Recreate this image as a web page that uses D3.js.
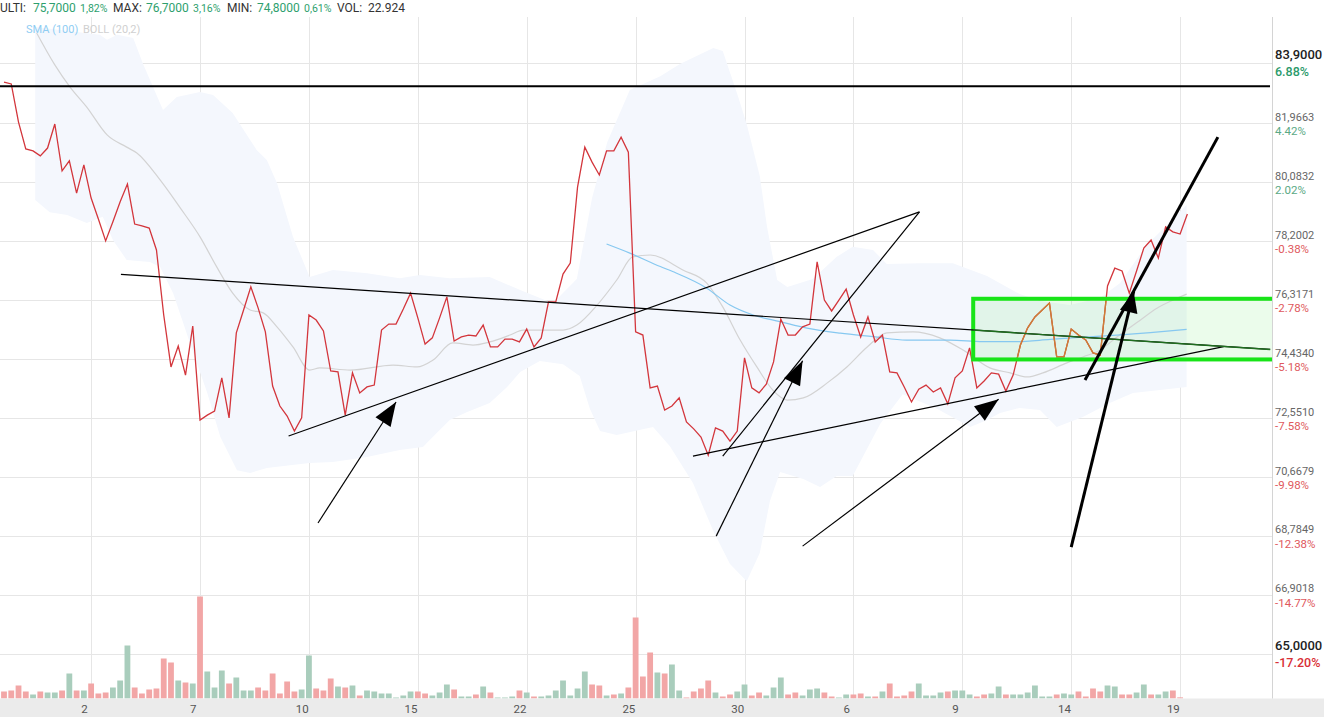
<!DOCTYPE html>
<html><head><meta charset="utf-8">
<script src="https://cdn.jsdelivr.net/npm/d3@7"></script>
<style>
html,body{margin:0;padding:0;background:#fff;overflow:hidden}
svg{display:block;font-family:Roboto,"Noto Sans",Arial,sans-serif}
</style></head><body>
<svg id="chart" width="1324" height="717"></svg>
<script>
// ---------- DATA ----------
const prices = [83.29,83.23,82.01,81.15,81.09,80.93,81.18,81.95,80.45,80.77,
79.74,80.64,79.58,78.91,78.21,78.82,79.46,80.03,78.75,78.69,
78.62,77.92,75.84,74.18,74.85,73.92,75.49,72.48,72.64,72.77,
73.83,72.55,75.27,76.00,76.74,76.07,75.30,73.57,72.93,72.61,
72.13,72.55,75.84,75.68,75.33,74.05,74.02,72.64,73.99,73.35,
73.54,73.60,75.36,75.55,75.55,76.03,76.54,75.75,74.91,75.11,
75.75,76.42,75.01,75.14,75.20,75.17,75.52,74.82,74.82,75.07,
75.07,74.98,75.39,74.82,75.11,76.26,76.26,77.15,77.50,79.93,
81.21,80.73,80.32,81.09,81.09,81.53,81.05,75.30,75.20,73.51,
73.57,72.80,72.93,73.19,72.42,72.20,71.94,71.36,72.23,72.13,
71.81,72.13,74.47,73.51,73.35,73.63,74.34,75.71,75.20,75.20,
75.46,75.55,77.54,76.32,75.97,76.32,76.67,75.84,75.14,75.78,
74.98,75.20,74.02,73.99,73.54,73.06,73.47,73.60,73.38,73.51,
73.00,73.83,74.05,74.79,73.51,73.73,73.99,73.95,73.41,73.92,
74.88,75.43,75.78,76.00,76.22,74.50,74.50,75.39,75.20,75.04,
74.63,74.56,76.77,77.34,77.25,76.54,77.25,77.98,78.24,77.66,
78.66,78.50,78.43,79.07];

const volumes = [140,160,260,140,80,140,120,120,160,500,
160,160,300,100,120,220,360,1060,220,100,
180,200,800,720,360,320,300,2040,540,220,
560,300,420,160,160,220,160,500,100,340,
140,180,860,200,160,400,240,220,260,60,
160,140,100,100,20,60,140,140,100,60,
120,280,180,40,40,80,240,120,20,20,
40,160,120,40,40,60,160,360,60,200,
540,280,260,60,80,100,220,1620,440,920,
520,500,680,160,20,140,200,360,120,40,
80,140,280,60,120,60,220,420,80,120,
60,180,200,120,40,20,80,80,100,40,
40,140,300,40,60,140,300,60,60,120,
140,160,160,80,40,80,100,240,80,80,
80,120,260,40,40,80,100,80,140,40,
200,140,260,240,80,80,120,280,80,80,
140,160,23];

const volUp = [0,0,0,0,1,0,1,1,0,1,
0,1,0,0,0,1,1,1,0,0,
0,0,0,0,1,0,1,0,1,1,
1,0,1,1,1,0,0,0,0,0,
0,1,1,0,0,0,1,0,1,0,
1,1,1,1,1,1,1,0,0,1,
1,1,0,1,1,0,1,0,1,1,
1,0,1,0,1,1,1,1,1,1,
1,0,0,1,0,1,0,0,0,0,
1,0,1,1,0,0,0,0,1,0,
0,1,1,0,0,1,1,1,0,0,
1,1,1,0,0,1,1,0,0,1,
0,1,0,0,0,0,1,1,1,1,
0,1,1,1,0,0,1,1,0,1,
1,1,1,1,1,0,1,1,0,0,
0,0,1,1,0,0,1,1,0,1,
1,0,0];

const xLabels = ["2","7","10","15","22","25","30","6","9","14","19"];
const xLabelIdx = [11,26,41,56,71,86,101,116,131,146,161];

const yTicks = [83.9,81.9663,80.0832,78.2002,76.3171,74.434,72.551,70.6679,68.7849,66.9018,65.0];
const yPct = ["6.88%","4.42%","2.02%","-0.38%","-2.78%","-5.18%","-7.58%","-9.98%","-12.38%","-14.77%","-17.20%"];

// Bollinger (20,2) band edges and middle line, read at sample bar positions [barIndex, price]
const bollUpper = [[4.3,85.05],[13.2,84.8],[14.2,84.64],[15.6,84.8],[17.8,84.7],[19.1,83.9],[21.9,82.4],[23.8,82.81],[27,82.97],[28.8,82.88],[31.5,82.3],[34.8,81.12],[36.2,80.8],[37.6,80.06],[39.8,78.34],[42.1,77.06],[45.3,77.28],[50,77.18],[54.5,77.02],[57.3,77.12],[61.4,77.02],[66.9,77.06],[71.1,76.64],[75.6,76.22],[78.9,76.99],[81,79.58],[83.1,81.37],[86.2,83.04],[90.4,83.48],[93.1,83.87],[97.7,84.38],[99,84.28],[101,82.91],[102.3,81.95],[104.1,80.29],[105.1,78.66],[106.5,76.96],[107.9,76.74],[111.4,76.99],[114.7,77.7],[116.9,78.02],[119.7,77.92],[121.6,77.47],[126.2,77.5],[130.7,77.5],[135.4,77.09],[139.9,76.51],[142.7,76.29],[146.8,76.16],[150.9,76.38],[153.7,76.86],[157.4,78.08],[160.2,78.72],[162.9,79.36]];
const bollLower = [[4.3,79.52],[6.3,79.13],[8.7,79.04],[11.4,78.78],[13.6,78.98],[15,78.24],[16.9,77.6],[20.1,77.54],[21.5,77.38],[23.3,76.54],[25.6,74.95],[28,73.35],[29.8,71.94],[32.1,70.88],[33.9,70.79],[36.2,70.95],[39.4,71.04],[42.1,71.11],[45.3,71.14],[50,71.3],[54.5,71.52],[57.7,71.62],[59.6,72.07],[61.4,72.48],[63.8,72.74],[66.9,73.03],[69.3,73.54],[71.1,74.02],[73.8,74.37],[77,74.27],[79.3,73.89],[80.7,72.84],[82.1,72.13],[84.4,72.0],[89.4,72.26],[91.7,71.65],[94.9,70.47],[97.7,68.93],[100,67.88],[102.3,67.33],[104.1,68.23],[105.5,69.89],[106.9,70.82],[110.1,70.6],[112.4,70.34],[114.7,70.69],[116.9,70.69],[120.7,72.36],[123.8,73.31],[128.5,72.84],[133.1,72.26],[135.4,72.48],[137.2,72.71],[139.9,72.87],[142.7,72.8],[145,72.26],[148.6,72.58],[152.3,73.03],[155.5,73.35],[159.2,73.44],[162.9,73.54]];
const bollMid = [[4.5,84.86],[7,83.84],[9.1,83.13],[11.4,82.49],[14.2,81.6],[16.9,81.21],[18.3,81.02],[21.5,80.16],[24.2,79.29],[27,78.34],[29.3,77.38],[31.5,76.54],[33.9,76.0],[35.7,75.91],[37.6,75.46],[39.8,74.82],[42.1,74.08],[43.5,74.15],[47.7,74.08],[53.6,74.24],[56.9,74.18],[59.1,74.4],[61.8,74.95],[64.6,74.88],[66.9,74.98],[69.7,75.2],[71.5,75.36],[77,75.36],[78.9,75.52],[81.7,76.16],[84.4,76.96],[86.6,77.7],[89,77.76],[93.5,77.28],[96.8,76.86],[99,76.1],[101.4,75.04],[103.7,74.18],[105.9,73.44],[107.9,73.12],[110.1,73.19],[113.4,73.67],[116.1,74.18],[118.9,74.82],[121.6,75.27],[125.2,75.3],[128.9,75.11],[132.1,74.72],[135.8,74.15],[138.6,73.99],[140.9,73.86],[143.1,73.99],[146.4,74.31],[148.6,74.5],[151,74.72],[153.3,75.14],[156,75.59],[158.8,76.06],[161.6,76.38],[162.9,76.51]];
const sma100 = [[83,78.11],[86.2,77.82],[90.4,77.39],[92.1,77.23],[96.8,76.7],[100,76.16],[103.2,75.84],[106.9,75.63],[110.6,75.42],[115.2,75.26],[119.7,75.15],[124.3,75.04],[130.3,75.04],[134.8,74.99],[139.5,74.99],[144.1,75.06],[148.6,75.13],[153.3,75.2],[157.9,75.28],[162.9,75.38]];

// user drawings, in [barIndex, price]
const hLinePrice = 83.16;
const trendLines = [[[16.1,77.14],[174.4,74.74]],[[39.2,71.97],[126.1,79.14]],[[126.1,79.14],[99.0,71.33]],[[94.9,71.33],[168.0,74.83]]];
const arrows = [[[43.25,69.19],[54.0,73.06]],[[98.1,68.77],[110.0,74.38]],[[110.0,68.45],[137.0,73.15]]];
const thickLines = [[[148.9,73.76],[167.2,81.53]]];
const thickArrows = [[[147.0,68.42],[155.6,76.59]]];
const zone = {i0:133.5, i1:185, top:76.36, bottom:74.42};

const headerItems = ["ULTI:","75,7000","1,82%","MAX:","76,7000","3,16%","MIN:","74,8000","0,61%","VOL:","22.924"];
const headerKind  = ["lab","val","val","lab","val","val","lab","val","val","lab","lab"];
const headerX = [0,33,80,113,146,193,227,257,304,337,368];

// ---------- LAYOUT ----------
const plot = {l:0, r:1272, t:17, b:698.5};
const xs = d3.scaleLinear().domain([0,175]).range([4, 4+175*7.26]);
const ys = d3.scaleLinear().domain([65,83.9]).range([654,63]);
const vs = d3.scaleLinear().domain([0,2040]).range([plot.b, plot.b-102]);

const svg = d3.select("#chart");
const defs = svg.append("defs");
defs.append("clipPath").attr("id","plotClip").append("rect")
  .attr("x",plot.l).attr("y",plot.t).attr("width",plot.r-plot.l).attr("height",plot.b-plot.t);
const zx0 = xs(zone.i0), zx1 = xs(zone.i1), zy0 = ys(zone.top), zy1 = ys(zone.bottom);
defs.append("clipPath").attr("id","zoneClip").append("rect")
  .attr("x",zx0).attr("y",zy0).attr("width",zx1-zx0).attr("height",zy1-zy0);

// bottom axis band
svg.append("rect").attr("x",0).attr("y",plot.b).attr("width",1324).attr("height",717-plot.b).attr("fill","#ebebeb");

const g = svg.append("g").attr("clip-path","url(#plotClip)");

// grid
g.append("g").selectAll("line").data(yTicks).join("line")
  .attr("x1",plot.l).attr("x2",plot.r)
  .attr("y1",d=>Math.round(ys(d))+0.5).attr("y2",d=>Math.round(ys(d))+0.5)
  .attr("stroke","#e6e6e6").attr("stroke-width",1);
g.append("g").selectAll("line").data(xLabelIdx).join("line")
  .attr("x1",d=>Math.round(xs(d+1))+0.5).attr("x2",d=>Math.round(xs(d+1))+0.5)
  .attr("y1",plot.t).attr("y2",plot.b)
  .attr("stroke","#e6e6e6").attr("stroke-width",1);

// Bollinger band
const band = bollUpper.concat(bollLower.slice().reverse());
g.append("path").attr("d", d3.line().x(d=>xs(d[0])).y(d=>ys(d[1])).curve(d3.curveLinearClosed)(band))
  .attr("fill","#f4f7fd").attr("stroke","none");

// volume bars
g.append("g").selectAll("rect").data(volumes).join("rect")
  .attr("x",(d,i)=>xs(i)-2.9).attr("width",5.8)
  .attr("y",d=>vs(d)).attr("height",d=>plot.b-vs(d))
  .attr("fill",(d,i)=>volUp[i]?"#a9cdbc":"#f2a6a6");

// zone fill
g.append("rect").attr("x",zx0).attr("y",zy0).attr("width",zx1-zx0).attr("height",zy1-zy0)
  .attr("fill","rgba(60,225,60,0.10)");

// indicator lines
const ptLine = d3.line().x(d=>xs(d[0])).y(d=>ys(d[1])).curve(d3.curveMonotoneX);
g.append("path").attr("d",ptLine(bollMid)).attr("fill","none").attr("stroke","#d3d3d3").attr("stroke-width",1.2);
g.append("path").attr("d",ptLine(sma100)).attr("fill","none").attr("stroke","#86c8f0").attr("stroke-width",1.2);

// price line
const priceLine = d3.line().x((d,i)=>xs(i)).y(d=>ys(d));
g.append("path").attr("d",priceLine(prices)).attr("fill","none").attr("stroke","#d3363c").attr("stroke-width",1.3);
g.append("path").attr("d",priceLine(prices)).attr("fill","none").attr("stroke","#cc8035").attr("stroke-width",1.3)
  .attr("clip-path","url(#zoneClip)");

// zone border
g.append("rect").attr("x",zx0).attr("y",zy0).attr("width",zx1-zx0).attr("height",zy1-zy0)
  .attr("fill","none").attr("stroke","#18e418").attr("stroke-width",4);

// drawings
g.append("line").attr("x1",plot.l).attr("x2",plot.r-2).attr("y1",ys(hLinePrice)).attr("y2",ys(hLinePrice))
  .attr("stroke","#000").attr("stroke-width",2);
const seg = (sel, p, w, col) => sel.append("line")
  .attr("x1",xs(p[0][0])).attr("y1",ys(p[0][1])).attr("x2",xs(p[1][0])).attr("y2",ys(p[1][1]))
  .attr("stroke",col).attr("stroke-width",w);
trendLines.forEach(p=>seg(g,p,1.2,"#000"));
seg(g.append("g").attr("clip-path","url(#zoneClip)"), trendLines[0], 1.4, "#1f6e1f");
thickLines.forEach(p=>seg(g,p,3,"#000"));
function head(p, len, half){
  const fx=xs(p[0][0]), fy=ys(p[0][1]), tx=xs(p[1][0]), ty=ys(p[1][1]);
  const L=Math.hypot(tx-fx,ty-fy), ux=(tx-fx)/L, uy=(ty-fy)/L;
  const bx=tx-ux*len, by=ty-uy*len, px=-uy, py=ux;
  return [[tx,ty],[bx+px*half,by+py*half],[bx-px*half,by-py*half]];
}
arrows.forEach(p=>{
  seg(g,p,1.2,"#000");
  g.append("path").attr("d",d3.line()(head(p,24,9))+"Z").attr("fill","#000");
});
thickArrows.forEach(p=>{
  seg(g,p,3,"#000");
  g.append("path").attr("d",d3.line()(head(p,21,9))+"Z").attr("fill","#000");
});

// right axis line
svg.append("line").attr("x1",plot.r+0.5).attr("x2",plot.r+0.5).attr("y1",plot.t).attr("y2",plot.b)
  .attr("stroke","#d4d4d4");

// x axis
const xAxis = d3.axisBottom(xs).tickValues(xLabelIdx).tickFormat((d,i)=>xLabels[i]).tickSize(0).tickPadding(6);
const gx = svg.append("g").attr("transform",`translate(0,${plot.b})`).call(xAxis);
gx.select(".domain").remove();
gx.selectAll("text").attr("fill","#555").attr("font-size",11.5).attr("font-family","Roboto, sans-serif");

// y axis (price + percent)
const last = yTicks.length-1;
const yAxis = d3.axisRight(ys).tickValues(yTicks).tickSize(0).tickPadding(3)
  .tickFormat(d=>d.toFixed(4).replace(".",","));
const gy = svg.append("g").attr("transform",`translate(${plot.r},0)`).call(yAxis);
gy.select(".domain").remove();
gy.selectAll(".tick text")
  .attr("dy",(d,i)=>(i===0||i===last)?"-0.32em":"-0.25em")
  .attr("fill",(d,i)=>(i===0||i===last)?"#222":"#666")
  .attr("font-size",(d,i)=>(i===0||i===last)?13:11)
  .attr("font-weight",(d,i)=>(i===0||i===last)?500:400)
  .attr("font-family","Roboto, sans-serif");
gy.selectAll(".tick").append("text")
  .attr("x",3).attr("dy","1.0em")
  .attr("font-family","Roboto, sans-serif")
  .attr("font-size",(d,i)=>(i===0||i===last)?12.5:11.5)
  .attr("font-weight",(d,i)=>(i===0||i===last)?500:400)
  .attr("fill",(d,i)=>{
    const pos = !yPct[i].startsWith("-");
    if(i===0||i===last) return pos?"#2b9a6b":"#d93036";
    return pos?"#5aa985":"#e0585d";
  })
  .attr("text-anchor","start")
  .text((d,i)=>yPct[i]);

// header
svg.append("g").selectAll("text").data(headerItems).join("text")
  .attr("x",(d,i)=>headerX[i]).attr("y",12)
  .attr("font-size",(d,i)=>headerItems[i].endsWith("%")?10.5:12)
  .attr("font-family","Roboto, sans-serif")
  .attr("fill",(d,i)=>headerKind[i]==="val"?"#2e9f6e":"#333")
  .text(d=>d);

// legend
svg.append("text").attr("x",26).attr("y",33).attr("font-size",11).attr("fill","#8fcdf3").text("SMA (100)");
svg.append("text").attr("x",83).attr("y",33).attr("font-size",11).attr("fill","#d0d0d0").text("BOLL (20,2)");
</script>
</body></html>
